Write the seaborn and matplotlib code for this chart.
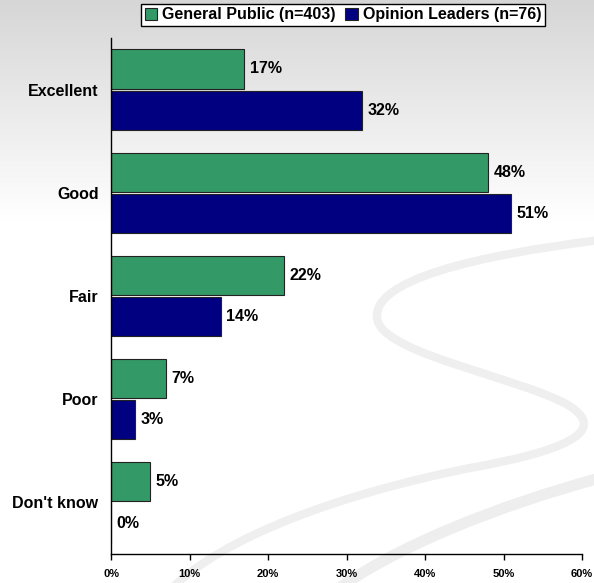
import numpy as np
import pandas as pd
import matplotlib
matplotlib.use("Agg")
import matplotlib.pyplot as plt
import seaborn as sns
from matplotlib.patches import Patch, PathPatch
from matplotlib.path import Path

categories = ["Excellent", "Good", "Fair", "Poor", "Don't know"]
series_names = ["General Public (n=403)", "Opinion Leaders (n=76)"]
general_public = [17, 48, 22, 7, 5]
opinion_leaders = [32, 51, 14, 3, 0]
x_ticks = [0, 10, 20, 30, 40, 50, 60]
x_tick_labels = ["0%", "10%", "20%", "30%", "40%", "50%", "60%"]
colors = ["#339966", "#000080"]

sns.set_theme(style="white")
plt.rcParams["font.family"] = ["Liberation Sans", "DejaVu Sans"]
plt.rcParams["font.weight"] = "bold"
plt.rcParams["text.color"] = "black"
plt.rcParams["xtick.color"] = "black"
plt.rcParams["ytick.color"] = "black"

df = pd.DataFrame({
    "Rating": categories * 2,
    "Series": [series_names[0]] * len(categories) + [series_names[1]] * len(categories),
    "Value": general_public + opinion_leaders,
})

fig = plt.figure(figsize=(5.94, 5.83), dpi=100)

# background gradient (gray at top -> white) and decorative swoosh
bg = fig.add_axes([0, 0, 1, 1], zorder=-10)
ys = np.arange(583)
g = np.clip(0.84 + 0.16 * ys / 220.0, 0, 1)[:, None]
bg.imshow(np.dstack([g, g, g]), aspect="auto", extent=[0, 594, 583, 0])
bg.set_xlim(0, 594)
bg.set_ylim(583, 0)
C = Path.CURVE4
s_verts = [(600, 240), (480, 255), (365, 280), (378, 322),
           (390, 355), (520, 378), (568, 405),
           (612, 432), (560, 452), (470, 468),
           (350, 492), (220, 535), (165, 595)]
s_codes = [Path.MOVETO] + [C] * 12
bg.add_patch(PathPatch(Path(s_verts, s_codes), facecolor="none",
                       edgecolor="#efefef", lw=6, capstyle="butt"))
s2 = [(600, 478), (500, 505), (390, 548), (330, 595)]
bg.add_patch(PathPatch(Path(s2, [Path.MOVETO, C, C, C]), facecolor="none",
                       edgecolor="#eeeeee", lw=8, capstyle="butt"))
bg.axis("off")

ax = fig.add_axes([111 / 594, 1 - 554 / 583, (582 - 111) / 594, (554 - 38) / 583])
ax.patch.set_alpha(0)

sns.barplot(data=df, y="Rating", x="Value", hue="Series", order=categories,
            hue_order=series_names, palette=colors, orient="h", width=0.8, gap=0.05,
            edgecolor="#222222", linewidth=0.8, ax=ax, legend=False, saturation=1)

ax.set_xlim(0, 60)
ax.set_ylim(4.5, -0.5)
ax.set_xticks(x_ticks)
ax.set_xticklabels(x_tick_labels, fontsize=8, fontweight="bold")
ax.tick_params(axis="x", direction="out", length=4, width=1, color="black", pad=7, bottom=True)
ax.tick_params(axis="y", length=0, pad=9, labelsize=11.5)
for lbl in ax.get_yticklabels():
    lbl.set_fontweight("bold")
    lbl.set_color("black")
ax.set_xlabel("")
ax.set_ylabel("")
for s in ["top", "right"]:
    ax.spines[s].set_visible(False)
for s in ["left", "bottom"]:
    ax.spines[s].set_color("black")
    ax.spines[s].set_linewidth(1)

for cont in ax.containers:
    ax.bar_label(cont, labels=[f"{int(v)}%" for v in cont.datavalues],
                 padding=4, fontsize=11.5, fontweight="bold", color="black")

handles = [Patch(facecolor=c, edgecolor="#222222", linewidth=0.8) for c in colors]
leg = fig.legend(handles, series_names, loc="center", bbox_to_anchor=(343 / 594, 1 - 15 / 583),
                 ncol=2, frameon=True, fancybox=False, prop={"weight": "bold", "size": 11.5},
                 handlelength=0.8, handleheight=0.8, handletextpad=0.3, columnspacing=0.6,
                 borderpad=0.25, edgecolor="black", framealpha=1)
leg.get_frame().set_linewidth(1)

fig.savefig("out.png", dpi=100)
